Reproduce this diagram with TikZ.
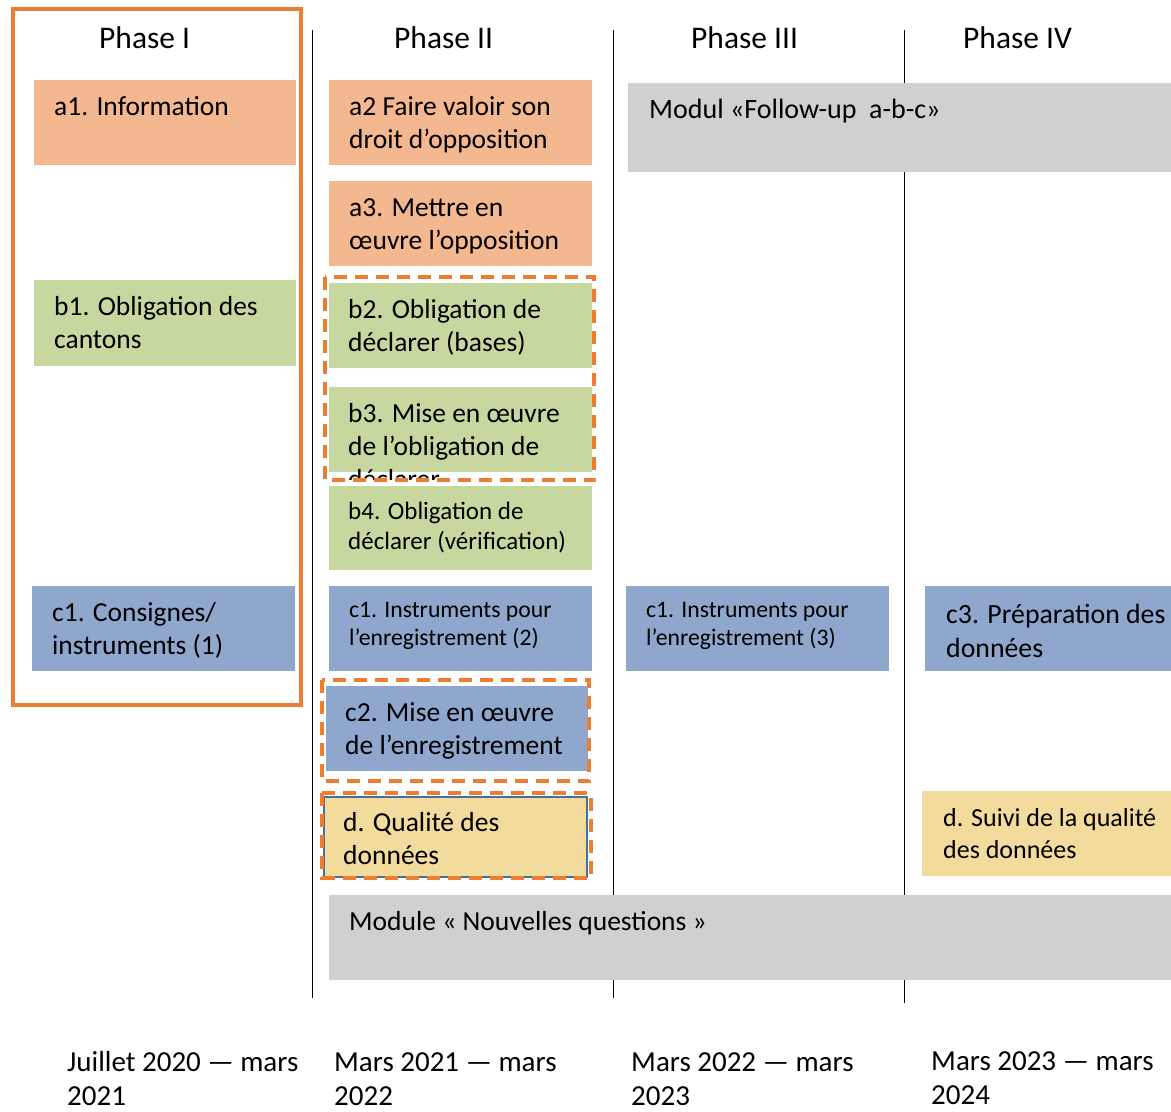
\documentclass[tikz,border=0pt]{standalone}
\usepackage{fontspec}
\setmainfont{Carlito}
\usetikzlibrary{positioning}

\definecolor{frameorange}{RGB}{237,125,49}
\definecolor{cellorange}{RGB}{244,184,145}
\definecolor{cellgreen}{RGB}{198,216,160}
\definecolor{cellblue}{RGB}{143,167,204}
\definecolor{cellyellow}{RGB}{243,218,157}
\definecolor{cellgray}{RGB}{208,208,208}
\definecolor{edgeblue}{RGB}{65,113,156}

\begin{document}
\begin{tikzpicture}[x=1pt, y=-1pt,
    cell/.style={anchor=north west, inner sep=0pt, minimum width=263pt, minimum height=85pt},
    txt/.style={anchor=north west, inner sep=0pt, align=left, font=\fontsize{27.5}{33}\selectfont},
    head/.style={anchor=base west, inner sep=0pt, font=\fontsize{31.5}{36}\selectfont},
    grp/.style={draw=frameorange, line width=4pt, dash pattern=on 13pt off 8pt},
    sep/.style={draw=black, line width=0.9pt}]
    \useasboundingbox (0,0) rectangle (1171,1112);

    % phase separators
    \draw[sep] (312,30) -- (312,998);
    \draw[sep] (613,30) -- (613,998);
    \draw[sep] (904,30) -- (904,1003);

    % phase titles
    \node[head] (ph1) at (99,48) {Phase I};
    \node[head] (ph2) at (394,48) {Phase II};
    \node[head] (ph3) at (691,48) {Phase III};
    \node[head] (ph4) at (963,48) {Phase IV};

    % a: information / opposition
    \node[cell, fill=cellorange, minimum width=262pt] (a1) at (34,80) {};
    \node[txt] (a1t) at ([shift={(20,12)}]a1.north west) {\strut a1. Information};
    \node[cell, fill=cellorange] (a2) at (329,80) {};
    \node[txt] (a2t) at ([shift={(20,12)}]a2.north west) {\strut a2 Faire valoir son\\droit d’opposition};
    \node[cell, fill=cellorange] (a3) at (329,181) {};
    \node[txt] (a3t) at ([shift={(20,12)}]a3.north west) {\strut a3. Mettre en\\œuvre l’opposition};

    % b: obligation de declarer
    \node[cell, fill=cellgreen, minimum width=262pt, minimum height=86pt] (b1) at (34,280) {};
    \node[txt] (b1t) at ([shift={(20,12)}]b1.north west) {\strut b1. Obligation des\\cantons};
    \node[cell, fill=cellgreen] (b2) at (329,283) {};
    \node[txt] (b2t) at ([shift={(19,12)}]b2.north west) {\strut b2. Obligation de\\déclarer (bases)};
    \node[cell, fill=cellgreen] (b3) at (329,387) {};
    \begin{scope}
        \clip (b3.north west) rectangle ([shift={(0,7)}]b3.south east);
        \node[txt] (b3t) at ([shift={(19,12)}]b3.north west) {\strut b3. Mise en œuvre\\de l’obligation de\\déclarer};
    \end{scope}
    \node[cell, fill=cellgreen, minimum height=84pt] (b4) at (329,486) {};
    \node[txt, font=\fontsize{25}{30}\selectfont] (b4t) at ([shift={(19,12)}]b4.north west) {\strut b4. Obligation de\\déclarer (vérification)};

    % c: enregistrement
    \node[cell, fill=cellblue] (c1a) at (32,586) {};
    \node[txt] (c1at) at ([shift={(20,12)}]c1a.north west) {\strut c1. Consignes/\\instruments (1)};
    \node[cell, fill=cellblue] (c1b) at (329,586) {};
    \node[txt, font=\fontsize{23.7}{28}\selectfont] (c1bt) at ([shift={(20,12)}]c1b.north west) {\strut c1. Instruments pour\\l’enregistrement (2)};
    \node[cell, fill=cellblue] (c1c) at (626,586) {};
    \node[txt, font=\fontsize{23.7}{28}\selectfont] (c1ct) at ([shift={(20,12)}]c1c.north west) {\strut c1. Instruments pour\\l’enregistrement (3)};
    \node[cell, fill=cellblue, minimum width=246pt] (c3) at (925,586) {};
    \node[txt, font=\fontsize{27.8}{34}\selectfont] (c3t) at ([shift={(21,13)}]c3.north west) {\strut c3. Préparation des\\données};
    \node[cell, fill=cellblue, minimum width=262pt] (c2) at (326,686) {};
    \node[txt] (c2t) at ([shift={(19,12)}]c2.north west) {\strut c2. Mise en œuvre\\de l’enregistrement};

    % d: qualite
    \node[cell, fill=cellyellow, draw=edgeblue, line width=1.5pt, minimum height=80pt] (dq) at (323,796) {};
    \node[txt] (dqt) at ([shift={(20,12)}]dq.north west) {\strut d. Qualité des\\données};
    \node[cell, fill=cellyellow, minimum width=249pt] (ds) at (922,791) {};
    \node[txt, font=\fontsize{26}{32}\selectfont] (dst) at ([shift={(21,13)}]ds.north west) {\strut d. Suivi de la qualité\\des données};

    % modules
    \node[cell, fill=cellgray, minimum width=543pt, minimum height=89pt] (fu) at (628,83) {};
    \node[txt, font=\fontsize{28}{33}\selectfont] (fut) at ([shift={(21,12)}]fu.north west) {\strut Modul «Follow-up\ \ a-b-c»};
    \node[cell, fill=cellgray, minimum width=842pt] (nq) at (329,895) {};
    \node[txt] (nqt) at ([shift={(20,12)}]nq.north west) {\strut Module « Nouvelles questions »};

    % frames
    \draw[draw=frameorange, line width=3.5pt] (13,9) rectangle (301,705);
    \draw[grp] ([shift={(-4,-6)}]b2.north west) rectangle ([shift={(2,8)}]b3.south east);
    \draw[grp] ([shift={(-4,-6)}]c2.north west) rectangle ([shift={(1,10)}]c2.south east);
    \draw[grp] ([shift={(-1,-3)}]dq.north west) rectangle ([shift={(3,0)}]dq.south east);

    % periods
    \node[txt, font=\fontsize{29}{34}\selectfont] (p1) at (67,1047) {\strut Juillet 2020 — mars\\2021};
    \node[txt, font=\fontsize{29}{34}\selectfont] (p2) at (334,1047) {\strut Mars 2021 — mars\\2022};
    \node[txt, font=\fontsize{29}{34}\selectfont] (p3) at (631,1047) {\strut Mars 2022 — mars\\2023};
    \node[txt, font=\fontsize{29}{34}\selectfont] (p4) at (931,1046) {\strut Mars 2023 — mars\\2024};
\end{tikzpicture}
\end{document}
